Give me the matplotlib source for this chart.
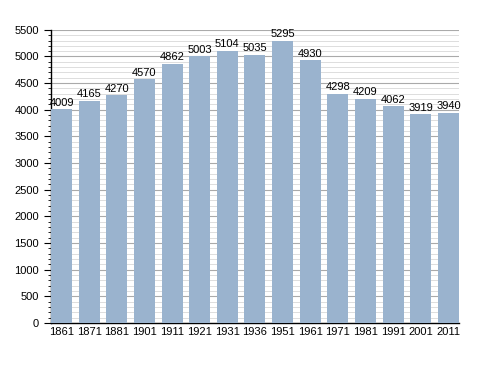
import matplotlib
matplotlib.use("Agg")
import matplotlib.pyplot as plt
from matplotlib.ticker import MultipleLocator

plt.rcParams["font.family"] = ["Liberation Sans", "DejaVu Sans"]

years = ["1861", "1871", "1881", "1901", "1911", "1921", "1931", "1936",
         "1951", "1961", "1971", "1981", "1991", "2001", "2011"]
population = [4009, 4165, 4270, 4570, 4862, 5003, 5104, 5035,
              5295, 4930, 4298, 4209, 4062, 3919, 3940]

fig = plt.figure(figsize=(4.88, 3.73), dpi=100)
ax = fig.add_axes([0.104, 0.134, 0.837, 0.786])

x = list(range(len(years)))
ax.bar(x, population, width=0.76, color="#9AB3CE", zorder=3)
for xi, v in zip(x, population):
    ax.text(xi, v + 30, str(v), ha="center", va="bottom", fontsize=8, zorder=4)

ax.set_xlim(-0.39, len(years) - 0.61)
ax.set_ylim(0, 5500)
ax.set_xticks(x)
ax.set_xticklabels(years, fontsize=8)
ax.yaxis.set_major_locator(MultipleLocator(500))
ax.yaxis.set_minor_locator(MultipleLocator(100))
ax.tick_params(axis="y", labelsize=8, length=5, width=0.8)
ax.tick_params(axis="y", which="minor", length=2.5, width=0.6)
ax.tick_params(axis="x", length=0, pad=3)
ax.grid(axis="y", which="major", color="#AAAAAA", linewidth=0.8, zorder=0)
ax.grid(axis="y", which="minor", color="#DDDDDD", linewidth=0.7, zorder=0)
for s in ["top", "right"]:
    ax.spines[s].set_visible(False)
ax.spines["left"].set_linewidth(1.0)
ax.spines["bottom"].set_linewidth(1.0)

fig.savefig("out.png", dpi=100)
